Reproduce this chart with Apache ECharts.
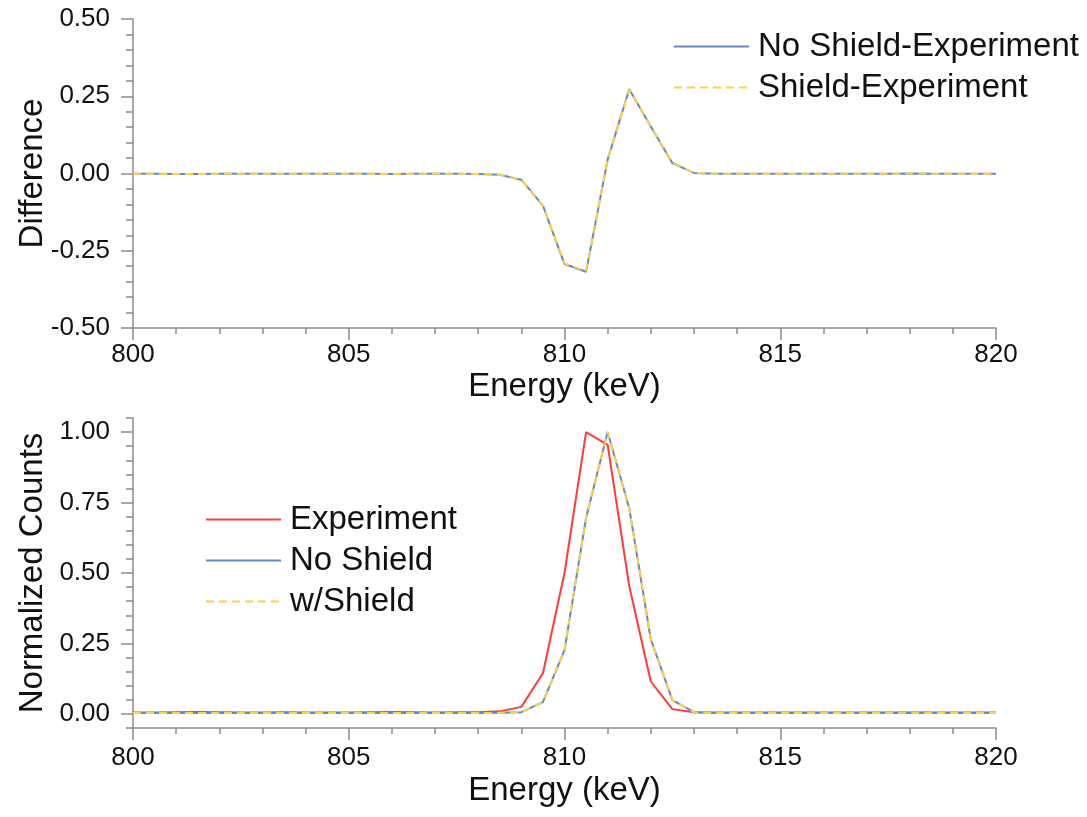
<!DOCTYPE html>
<html>
<head>
<meta charset="utf-8">
<script src="https://cdn.jsdelivr.net/npm/echarts@6/dist/echarts.min.js"></script>
<style>
  html, body { margin: 0; padding: 0; background: #fff; }
  #main { width: 1087px; height: 817px; }
</style>
</head>
<body>
<div id="main"></div>
<script>
// energy grid (keV)
const energy = [800, 800.5, 801, 801.5, 802, 802.5, 803, 803.5, 804, 804.5,
  805, 805.5, 806, 806.5, 807, 807.5, 808, 808.5, 809, 809.5,
  810, 810.5, 811, 811.5, 812, 812.5, 813, 813.5, 814, 814.5,
  815, 815.5, 816, 816.5, 817, 817.5, 818, 818.5, 819, 819.5, 820];

// normalized counts
const experiment = [0.005, 0.005, 0.006, 0.007, 0.006, 0.005, 0.005, 0.006, 0.005, 0.005,
  0.005, 0.006, 0.007, 0.006, 0.005, 0.006, 0.006, 0.009, 0.025, 0.144,
  0.50, 1.00, 0.955, 0.454, 0.115, 0.017, 0.006, 0.005, 0.005, 0.005,
  0.005, 0.005, 0.005, 0.005, 0.005, 0.005, 0.005, 0.005, 0.005, 0.005, 0.005];
const noShield = [0.003, 0.003, 0.003, 0.003, 0.003, 0.003, 0.003, 0.003, 0.003, 0.003,
  0.003, 0.003, 0.003, 0.003, 0.003, 0.003, 0.003, 0.004, 0.006, 0.042,
  0.226, 0.696, 1.00, 0.730, 0.265, 0.049, 0.006, 0.003, 0.003, 0.003,
  0.003, 0.003, 0.003, 0.003, 0.003, 0.003, 0.004, 0.003, 0.003, 0.003, 0.003];
const withShield = [0.003, 0.003, 0.003, 0.003, 0.003, 0.003, 0.003, 0.003, 0.003, 0.003,
  0.003, 0.003, 0.003, 0.003, 0.003, 0.003, 0.003, 0.004, 0.006, 0.043,
  0.228, 0.698, 1.00, 0.728, 0.266, 0.050, 0.006, 0.003, 0.003, 0.003,
  0.003, 0.003, 0.003, 0.003, 0.003, 0.003, 0.004, 0.003, 0.003, 0.003, 0.003];

// differences
const diffNoShield = [-0.001, -0.001, -0.002, -0.002, -0.001, -0.001, -0.001, -0.001, -0.001, -0.001,
  -0.001, -0.001, -0.002, -0.001, -0.001, -0.001, -0.002, -0.004, -0.020, -0.104,
  -0.293, -0.318, 0.045, 0.273, 0.152, 0.034, 0.002, -0.001, -0.001, -0.001,
  -0.001, -0.001, -0.001, -0.001, -0.001, -0.001, 0.000, -0.001, -0.001, -0.001, -0.001];
const diffShield = [-0.001, -0.001, -0.002, -0.002, -0.001, -0.001, -0.001, -0.001, -0.001, -0.001,
  -0.001, -0.001, -0.002, -0.001, -0.001, -0.001, -0.002, -0.004, -0.020, -0.103,
  -0.291, -0.316, 0.045, 0.271, 0.153, 0.035, 0.002, -0.001, -0.001, -0.001,
  -0.001, -0.001, -0.001, -0.001, -0.001, -0.001, 0.000, -0.001, -0.001, -0.001, -0.001];

const pairs = (ys) => energy.map((e, i) => [e, ys[i]]);

const FONT = "Liberation Sans";
const RED = "#ff3b3b";
const BLUE = "#6489c2";
const YELLOW = "#ffd23f";
const AXIS = "#8c8c8c";

const xAxisCommon = (grid) => ({
  type: "value",
  gridIndex: grid,
  min: 800,
  max: 820,
  interval: 5,
  name: "Energy (keV)",
  nameLocation: "middle",
  nameGap: grid === 0 ? 42 : 46,
  nameTextStyle: { fontFamily: FONT, fontSize: 33, color: "#111" },
  axisLine: { onZero: false, lineStyle: { color: AXIS, width: 1.5 } },
  axisTick: { length: 12, lineStyle: { color: AXIS, width: 1.5 } },
  minorTick: { show: true, splitNumber: 5, length: 6, lineStyle: { color: AXIS, width: 1.5 } },
  axisLabel: { fontFamily: FONT, fontSize: 26, color: "#111", margin: grid === 0 ? 14 : 17 },
  splitLine: { show: false },
});

const legendCommon = {
  orient: "vertical",
  padding: 0,
  itemWidth: 75,
  itemHeight: 30,
  itemGap: 8,
  itemStyle: { opacity: 0 },
  textStyle: { fontFamily: FONT, fontSize: 33, color: "#111", padding: [0, 0, 0, 4] },
};

const myChart = echarts.init(document.getElementById("main"));
const option = {
  backgroundColor: "#fff",
  animation: false,
  grid: [
    { left: 133, right: 91, top: 19, height: 309 },
    { left: 133, right: 91, top: 418, height: 310 },
  ],
  xAxis: [xAxisCommon(0), xAxisCommon(1)],
  yAxis: [
    {
      type: "value",
      gridIndex: 0,
      min: -0.5,
      max: 0.5,
      interval: 0.25,
      name: "Difference",
      nameLocation: "middle",
      nameGap: 84,
      nameMoveOverlap: false,
      nameTextStyle: { fontFamily: FONT, fontSize: 33, color: "#111" },
      axisLine: { show: true, onZero: false, lineStyle: { color: AXIS, width: 1.5 } },
      axisTick: { length: 12, lineStyle: { color: AXIS, width: 1.5 } },
      minorTick: { show: true, splitNumber: 5, length: 7, lineStyle: { color: AXIS, width: 1.5 } },
      axisLabel: { fontFamily: FONT, fontSize: 26, color: "#111", margin: 23, formatter: (v) => v.toFixed(2) },
      splitLine: { show: false },
    },
    {
      type: "value",
      gridIndex: 1,
      min: -0.05,
      max: 1.05,
      minInterval: 0.25,
      maxInterval: 0.25,
      name: "Normalized Counts",
      nameLocation: "middle",
      nameGap: 84,
      nameMoveOverlap: false,
      nameTextStyle: { fontFamily: FONT, fontSize: 33, color: "#111" },
      axisLine: { show: true, onZero: false, lineStyle: { color: AXIS, width: 1.5 } },
      axisTick: { length: 12, lineStyle: { color: AXIS, width: 1.5 } },
      axisLabel: {
        fontFamily: FONT, fontSize: 26, color: "#111", margin: 23,
        showMinLabel: false, showMaxLabel: false,
        formatter: (v) => v.toFixed(2),
      },
      splitLine: { show: false },
    },
    {
      // minor ticks for the lower panel
      type: "value",
      gridIndex: 1,
      position: "left",
      min: -0.05,
      max: 1.05,
      interval: 0.05,
      axisLine: { show: false, onZero: false },
      axisTick: { length: 7, lineStyle: { color: AXIS, width: 1.5 } },
      axisLabel: { show: false },
      splitLine: { show: false },
    },
  ],
  legend: [
    Object.assign({}, legendCommon, {
      left: 673,
      top: 30,
      data: ["No Shield-Experiment", "Shield-Experiment"],
    }),
    Object.assign({}, legendCommon, {
      left: 205,
      top: 503,
      data: ["Experiment", "No Shield", "w/Shield"],
    }),
  ],
  series: [
    {
      name: "No Shield-Experiment",
      type: "line",
      xAxisIndex: 0,
      yAxisIndex: 0,
      showSymbol: false,
      symbol: "none",
      lineStyle: { color: BLUE, width: 2 },
      itemStyle: { color: BLUE },
      data: pairs(diffNoShield),
    },
    {
      name: "Shield-Experiment",
      type: "line",
      xAxisIndex: 0,
      yAxisIndex: 0,
      showSymbol: false,
      symbol: "none",
      lineStyle: { color: YELLOW, width: 2, type: [8, 5] },
      itemStyle: { color: YELLOW },
      data: pairs(diffShield),
    },
    {
      name: "Experiment",
      type: "line",
      xAxisIndex: 1,
      yAxisIndex: 1,
      showSymbol: false,
      symbol: "none",
      lineStyle: { color: RED, width: 2 },
      itemStyle: { color: RED },
      data: pairs(experiment),
    },
    {
      name: "No Shield",
      type: "line",
      xAxisIndex: 1,
      yAxisIndex: 1,
      showSymbol: false,
      symbol: "none",
      lineStyle: { color: BLUE, width: 2 },
      itemStyle: { color: BLUE },
      data: pairs(noShield),
    },
    {
      name: "w/Shield",
      type: "line",
      xAxisIndex: 1,
      yAxisIndex: 1,
      showSymbol: false,
      symbol: "none",
      lineStyle: { color: YELLOW, width: 2, type: [8, 5] },
      itemStyle: { color: YELLOW },
      data: pairs(withShield),
    },
  ],
};
myChart.setOption(option);
</script>
</body>
</html>
